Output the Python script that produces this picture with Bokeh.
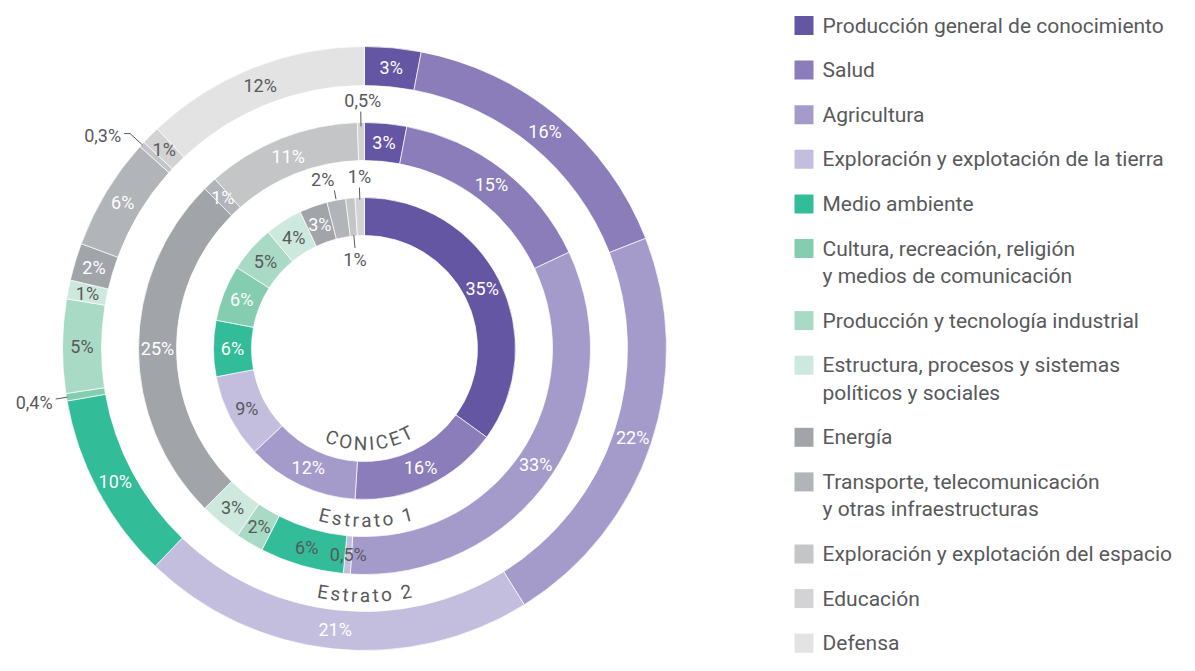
import numpy as np
from bokeh.plotting import figure
from bokeh.models import ColumnDataSource, Range1d
from bokeh.core.properties import value
from bokeh.embed import file_html
from bokeh.resources import INLINE

# ---------------- data ----------------
categories = [
    "Producción general de conocimiento",
    "Salud",
    "Agricultura",
    "Exploración y explotación de la tierra",
    "Medio ambiente",
    "Cultura, recreación, religión\ny medios de comunicación",
    "Producción y tecnología industrial",
    "Estructura, procesos y sistemas\npolíticos y sociales",
    "Energía",
    "Transporte, telecomunicación\ny otras infraestructuras",
    "Exploración y explotación del espacio",
    "Educación",
    "Defensa",
]
conicet = [35, 16, 12, 9, 6, 6, 5, 4, 3, 2, 1, 1, 0]
estrato1 = [3, 15, 33, 0.5, 6, 0, 2, 3, 25, 1, 11, 0.5, 0]
estrato2 = [3, 16, 22, 21, 10, 0.4, 5, 1, 2, 6, 0.3, 1, 12]
ring_names = ["CONICET", "Estrato 1", "Estrato 2"]

# ---------------- style ----------------
colors = ["#6556A4", "#8A7DB9", "#A49BCB", "#C3BEDD", "#32BC98", "#84CDB1",
          "#A9DAC6", "#CDE9DD", "#A1A4A8", "#B1B4B8", "#C4C5C7", "#D3D3D5", "#E3E3E3"]
GRAY = "#58595B"
WHITE = "#FFFFFF"
# label colour per ring (W = white, G = gray)
label_style = [
    "WWWGWWGGWGGGG",
    "WWWGGGGGWWWGG",
    "WWWWWGGGWWGGG",
]
FONT = "Roboto"
LBL_FS = "18px"

W, H = 1179, 655
def sx(v):
    return v
def sy(v):
    return H - v

cx, cy = sx(364), sy(348)
radii = [(113, 151), (188, 226), (263, 302)]

p = figure(width=W, height=H, x_range=Range1d(0, W), y_range=Range1d(0, H),
           output_backend="svg", toolbar_location=None, min_border=0,
           x_axis_type=None, y_axis_type=None)
p.grid.visible = False
p.outline_line_color = None
p.background_fill_color = "white"
p.border_fill_color = "white"

# callouts: (ring, cat) -> (r0, r1, elbow_dx, align, baseline, dx, dy)
callouts = {
    (0, 9): (152, 161, 0, "right", "bottom", 0, 0),
    (0, 11): (149, 161, 0, "center", "bottom", 0, 1),
    (0, 10): (114, 101, 0, "center", "top", 0, -1),
    (1, 11): (222, 237, 0, "center", "bottom", 2, 1),
    (2, 10): (301, 318, -6, "right", "middle", -3, -2),
    (2, 5): (301, 313, 0, "right", "middle", -3, -3),
}

def fmt(v):
    return ("%g" % v).replace(".", ",") + "%"

for ri, vals in enumerate([conicet, estrato1, estrato2]):
    rin, rout = radii[ri]
    vals = np.array(vals, dtype=float)
    tot = vals.sum()
    cum = np.concatenate([[0], np.cumsum(vals)]) / tot * 2 * np.pi
    idx = np.where(vals > 0)[0]
    src = ColumnDataSource(dict(
        start=[np.pi / 2 - cum[i] for i in idx],
        end=[np.pi / 2 - cum[i + 1] for i in idx],
        color=[colors[i] for i in idx],
    ))
    p.annular_wedge(x=cx, y=cy, inner_radius=rin, outer_radius=rout,
                    start_angle="start", end_angle="end", direction="clock",
                    fill_color="color", line_color="white", line_width=0.7,
                    source=src)
    lx, ly, lt, lc = [], [], [], []
    for i in idx:
        th = (cum[i] + cum[i + 1]) / 2
        if (ri, i) in callouts:
            r0, r1, ex, align, base, dx, dy = callouts[(ri, i)]
            x0, y0 = cx + r0 * np.sin(th), cy + r0 * np.cos(th)
            x1, y1 = cx + r1 * np.sin(th), cy + r1 * np.cos(th)
            xs, ys = [x0, x1], [y0, y1]
            if ex:
                xs.append(x1 + ex)
                ys.append(y1)
            p.line(xs, ys, line_color=GRAY, line_width=1)
            p.text([xs[-1] + dx], [ys[-1] + dy], text=[fmt(vals[i])],
                   text_color=GRAY, text_font=value(FONT),
                   text_font_size=value(LBL_FS), text_align=align,
                   text_baseline=base)
            continue
        rm = (rin + rout) / 2
        lx.append(cx + rm * np.sin(th))
        ly.append(cy + rm * np.cos(th))
        lt.append(fmt(vals[i]))
        lc.append(WHITE if label_style[ri][i] == "W" else GRAY)
    p.text(lx, ly, text=lt, text_color=lc, text_font=value(FONT),
           text_font_size=value(LBL_FS), text_align="center",
           text_baseline="middle")

# ---------------- curved ring names ----------------
cw = {"C": .652, "O": .688, "N": .713, "I": .279, "E": .567, "T": .610,
      "s": .516, "t": .327, "r": .338, "a": .544, "o": .570, " ": .248,
      "1": .561, "2": .561}
name_geom = [(95, 177, 19, 1.6), (172, 179.5, 19, 2.3), (247, 180, 19, 2.3)]
for name, (r, thc, fs, track) in zip(ring_names, name_geom):
    widths = [cw.get(ch, .55) * fs for ch in name]
    L = sum(widths) + track * (len(name) - 1)
    s = 0
    xs, ys, angs, chars = [], [], [], []
    for ch, w in zip(name, widths):
        sc = s + w / 2
        th = np.radians(thc) + (L / 2 - sc) / r
        xs.append(cx + r * np.sin(th))
        ys.append(cy + r * np.cos(th))
        angs.append(np.pi - th)
        chars.append(ch)
        s += w + track
    p.text(xs, ys, text=chars, angle=angs, text_color=GRAY,
           text_font=value(FONT), text_font_size=value("%dpx" % fs),
           text_align="center", text_baseline="middle")

# ---------------- legend ----------------
lg_x, lg_tx = sx(803.5), sx(822)
STEP, LINE = 44.6, 27.5
sq_x, sq_y, sq_c = [], [], []
tx, ty, tt = [], [], []
extra = 0
for i, cat in enumerate(categories):
    y0 = 25 + STEP * i + LINE * extra
    sq_x.append(lg_x)
    sq_y.append(sy(y0))
    sq_c.append(colors[i])
    lines = cat.split("\n")
    for k, ln in enumerate(lines):
        tx.append(lg_tx)
        ty.append(sy(y0 + LINE * k))
        tt.append(ln)
    extra += len(lines) - 1
p.rect(sq_x, sq_y, width=19, height=19, fill_color=sq_c, line_color=None)
p.text(tx, ty, text=tt, text_color=GRAY, text_font=value(FONT),
       text_font_size=value("21px"), text_align="left", text_baseline="middle")

open("out.html", "w").write(file_html(p, INLINE))
